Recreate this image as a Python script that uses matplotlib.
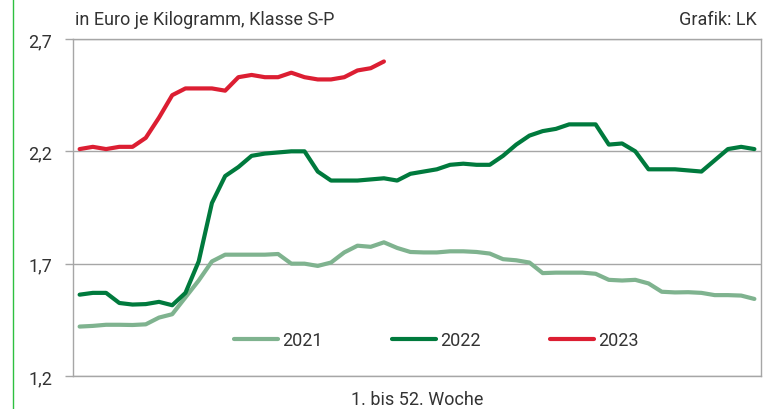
import matplotlib
matplotlib.use("Agg")
import matplotlib.pyplot as plt
from matplotlib.lines import Line2D
import numpy as np

plt.rcParams['font.family'] = ['Roboto', 'DejaVu Sans']

weeks = np.arange(1, 53)

# Preise 2021, 2022, 2023 (Euro je kg, Klasse S-P)
p2021 = [1.42, 1.423, 1.428, 1.428, 1.427, 1.43, 1.46, 1.475, 1.55, 1.625,
         1.71, 1.74, 1.74, 1.74, 1.74, 1.743, 1.70, 1.70, 1.69, 1.705,
         1.75, 1.78, 1.775, 1.795, 1.77, 1.752, 1.75, 1.75, 1.755, 1.755,
         1.752, 1.745, 1.72, 1.715, 1.705, 1.658, 1.66, 1.66, 1.66, 1.655,
         1.628, 1.625, 1.628, 1.612, 1.575, 1.572, 1.573, 1.57, 1.56, 1.56,
         1.558, 1.543]
p2022 = [1.562, 1.57, 1.57, 1.525, 1.518, 1.52, 1.53, 1.515, 1.57, 1.71,
         1.97, 2.09, 2.13, 2.18, 2.19, 2.195, 2.20, 2.20, 2.11, 2.07,
         2.07, 2.07, 2.075, 2.08, 2.07, 2.10, 2.11, 2.12, 2.14, 2.145,
         2.14, 2.14, 2.18, 2.23, 2.27, 2.29, 2.30, 2.32, 2.32, 2.32,
         2.23, 2.235, 2.20, 2.12, 2.12, 2.12, 2.115, 2.11, 2.16, 2.21,
         2.22, 2.21]
p2023 = [2.21, 2.22, 2.21, 2.22, 2.22, 2.26, 2.35, 2.45, 2.48, 2.48,
         2.48, 2.47, 2.53, 2.54, 2.53, 2.53, 2.55, 2.53, 2.52, 2.52,
         2.53, 2.56, 2.57, 2.60]

yticks = [1.2, 1.7, 2.2, 2.7]
ytick_labels = ['1,2', '1,7', '2,2', '2,7']

c2021 = '#7fb38f'
c2022 = '#007a3d'
c2023 = '#dc1e32'
txt = '#333333'
grid = '#a6a6a6'

fig = plt.figure(figsize=(7.69, 4.10), dpi=100)
ax = fig.add_axes([73/769, 33/410, 688/769, 337/410])

style = dict(lw=3, solid_capstyle='round', solid_joinstyle='round')
ax.plot(weeks, p2021, color=c2021, label='2021', **style)
ax.plot(weeks, p2022, color=c2022, label='2022', **style)
ax.plot(weeks[:len(p2023)], p2023, color=c2023, label='2023', **style)

ax.set_xlim(0.5, 52.5)
ax.set_ylim(1.2, 2.7)
ax.set_yticks(yticks)
ax.set_yticklabels(ytick_labels, fontsize=13, color=txt)
ax.set_xticks([])
ax.tick_params(axis='y', length=6, width=1, color=grid, pad=9)
for s in ax.spines.values():
    s.set_color(grid)
    s.set_linewidth(1)
ax.yaxis.grid(True, color=grid, lw=1)
ax.set_axisbelow(True)

ax.set_xlabel('1. bis 52. Woche', fontsize=13, color=txt, labelpad=10)

fig.text(75/769, 1 - 20/410, 'in Euro je Kilogramm, Klasse S-P', fontsize=13,
         color=txt, ha='left', va='center')
fig.text(757/769, 1 - 20/410, 'Grafik: LK', fontsize=13, color=txt,
         ha='right', va='center')

ax.legend(loc='center', bbox_to_anchor=(0.528, 0.107), ncol=3, frameon=False,
          fontsize=13, handlelength=2.45, columnspacing=3.8, handletextpad=0.25,
          labelcolor=txt)

fig.add_artist(Line2D([13/769, 13/769], [0, 1], color='#2ec040', lw=1))

fig.savefig('out.png', dpi=100)
